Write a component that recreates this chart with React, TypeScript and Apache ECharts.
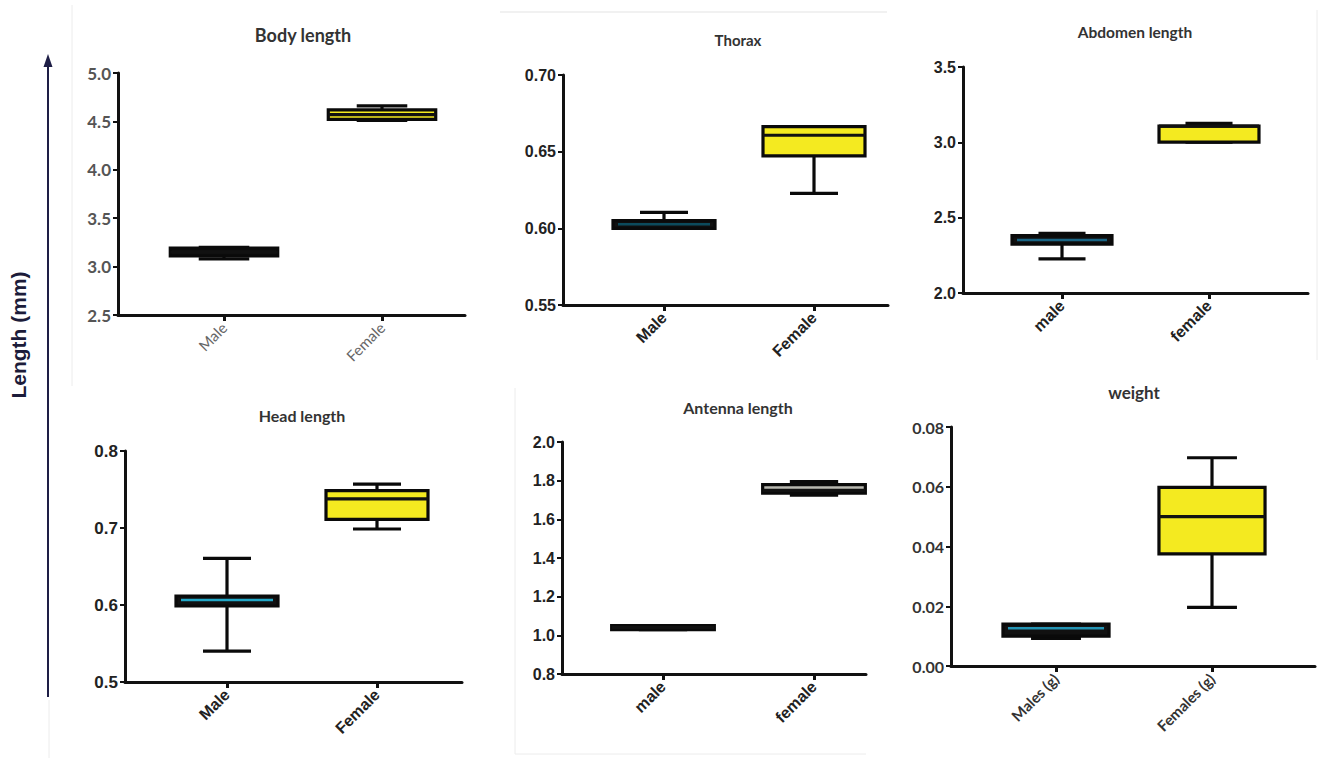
import React, { useEffect, useRef } from 'react';
import * as echarts from 'echarts';

// ---------- data ----------
// box stats: [min, Q1, median, Q3, max]
const bodyCats = ['Male', 'Female'];
const bodyMale = [3.08, 3.11, 3.15, 3.19, 3.2];
const bodyFemale = [4.51, 4.52, 4.57, 4.62, 4.66];
const bodyAxis = [2.5, 5.0, 0.5];

const thoraxCats = ['Male', 'Female'];
const thoraxMale = [0.6, 0.6, 0.6026, 0.605, 0.6104];
const thoraxFemale = [0.6228, 0.6472, 0.6607, 0.6663, 0.6663];
const thoraxAxis = [0.55, 0.7, 0.05];

const abdomenCats = ['male', 'female'];
const abdomenMale = [2.226, 2.324, 2.352, 2.381, 2.396];
const abdomenFemale = [3.002, 3.002, 3.108, 3.108, 3.126];
const abdomenAxis = [2.0, 3.5, 0.5];

const headCats = ['Male', 'Female'];
const headMale = [0.54, 0.5987, 0.6065, 0.6117, 0.6606];
const headFemale = [0.6987, 0.7113, 0.7377, 0.7485, 0.757];
const headAxis = [0.5, 0.8, 0.1];

const antennaCats = ['male', 'female'];
const antennaMale = [1.03, 1.03, 1.04, 1.05, 1.05];
const antennaFemale = [1.725, 1.735, 1.75, 1.78, 1.795];
const antennaAxis = [0.8, 2.0, 0.2];

const weightCats = ['Males (g)', 'Females (g)'];
const weightMale = [0.0092, 0.01, 0.0126, 0.014, 0.014];
const weightFemale = [0.0196, 0.0375, 0.05, 0.0598, 0.0697];
const weightAxis = [0, 0.08, 0.02];

const titles = ['Body length', 'Thorax', 'Abdomen length', 'Head length', 'Antenna length', 'weight'];

// ---------- layout / style ----------
const CAL = 'Lato, "Open Sans", sans-serif';
const ARI = '"Liberation Sans", Arial, sans-serif';

type Panel = {
  cats: string[]; male: number[]; female: number[]; axis: number[]; dec: number;
  left: number; right: number; top: number; bottom: number; t1: number; t2: number;
  title: [number, number, number];
  yFont: any; xFont: any; fills: string[]; medians: string[];
};

const panels: Panel[] = [
  {
    cats: bodyCats, male: bodyMale, female: bodyFemale, axis: bodyAxis, dec: 1,
    left: 118, right: 465, top: 73, bottom: 315, t1: 224, t2: 382, title: [303, 35, 18],
    yFont: { fontFamily: CAL, fontWeight: 'bold', fontSize: 17, color: '#555' },
    xFont: { fontFamily: CAL, fontWeight: 'normal', fontSize: 15, color: '#666' },
    fills: ['#111111', '#f4ea20'], medians: ['#111111', '#111111'],
  },
  {
    cats: thoraxCats, male: thoraxMale, female: thoraxFemale, axis: thoraxAxis, dec: 2,
    left: 563, right: 888, top: 75, bottom: 305, t1: 664, t2: 814, title: [738, 40, 15],
    yFont: { fontFamily: ARI, fontWeight: 'bold', fontSize: 16, color: '#222' },
    xFont: { fontFamily: ARI, fontWeight: 'bold', fontSize: 16, color: '#222' },
    fills: ['#111111', '#f4ea20'], medians: ['#0c4a5c', '#111111'],
  },
  {
    cats: abdomenCats, male: abdomenMale, female: abdomenFemale, axis: abdomenAxis, dec: 1,
    left: 963, right: 1308, top: 67, bottom: 293, t1: 1062, t2: 1209, title: [1135, 32, 15.5],
    yFont: { fontFamily: ARI, fontWeight: 'bold', fontSize: 16, color: '#222' },
    xFont: { fontFamily: ARI, fontWeight: 'bold', fontSize: 16, color: '#222' },
    fills: ['#111111', '#f4ea20'], medians: ['#1a6585', '#111111'],
  },
  {
    cats: headCats, male: headMale, female: headFemale, axis: headAxis, dec: 1,
    left: 125, right: 462, top: 451, bottom: 682, t1: 227, t2: 377, title: [302, 415, 16],
    yFont: { fontFamily: ARI, fontWeight: 'bold', fontSize: 17, color: '#222' },
    xFont: { fontFamily: ARI, fontWeight: 'bold', fontSize: 16, color: '#222' },
    fills: ['#111111', '#f4ea20'], medians: ['#22a8c8', '#111111'],
  },
  {
    cats: antennaCats, male: antennaMale, female: antennaFemale, axis: antennaAxis, dec: 1,
    left: 562, right: 866, top: 442, bottom: 674, t1: 663, t2: 814, title: [738, 407, 16],
    yFont: { fontFamily: ARI, fontWeight: 'bold', fontSize: 16, color: '#222' },
    xFont: { fontFamily: ARI, fontWeight: 'bold', fontSize: 16, color: '#222' },
    fills: ['#111111', '#b8b8b0'], medians: ['#111111', '#111111'],
  },
  {
    cats: weightCats, male: weightMale, female: weightFemale, axis: weightAxis, dec: 2,
    left: 951, right: 1315, top: 427, bottom: 666, t1: 1056, t2: 1212, title: [1134, 392, 17],
    yFont: { fontFamily: CAL, fontWeight: 'bold', fontSize: 16, color: '#333' },
    xFont: { fontFamily: CAL, fontWeight: 'bold', fontSize: 15, color: '#333' },
    fills: ['#111111', '#f4ea20'], medians: ['#2494b4', '#111111'],
  },
];

function makeRenderItem(fills: string[], medians: string[]) {
  return (params: any, api: any) => {
    const x = api.value(0);
    const p = [1, 2, 3, 4, 5].map((k) => api.coord([x, api.value(k)]));
    const unit = api.size([1, 0])[0];
    const cx = p[0][0];
    const hw = unit * 0.34;
    const cw = unit * 0.16;
    const i = params.dataIndex;
    const stroke = '#0a0a0a';
    const lw = 3.2;
    const isMale = i === 0;
    const medColor = medians[i];
    const inset = isMale && medColor !== '#111111' ? 5 : 0;
    return {
      type: 'group',
      children: [
        { type: 'line', shape: { x1: cx, y1: p[4][1], x2: cx, y2: p[3][1] }, style: { stroke, lineWidth: lw } },
        { type: 'line', shape: { x1: cx, y1: p[0][1], x2: cx, y2: p[1][1] }, style: { stroke, lineWidth: lw } },
        { type: 'line', shape: { x1: cx - cw, y1: p[4][1], x2: cx + cw, y2: p[4][1] }, style: { stroke, lineWidth: lw } },
        { type: 'line', shape: { x1: cx - cw, y1: p[0][1], x2: cx + cw, y2: p[0][1] }, style: { stroke, lineWidth: lw } },
        {
          type: 'rect',
          shape: { x: cx - hw, y: p[3][1], width: 2 * hw, height: Math.max(p[1][1] - p[3][1], 1) },
          style: { fill: fills[i], stroke, lineWidth: lw },
        },
        {
          type: 'line',
          shape: { x1: cx - hw + inset, y1: p[2][1], x2: cx + hw - inset, y2: p[2][1] },
          style: { stroke: medColor, lineWidth: inset ? 2.5 : lw },
        },
      ],
    };
  };
}

export default function App() {
  const ref = useRef<HTMLDivElement>(null);
  useEffect(() => {
    if (!ref.current) return;
    const chart = echarts.init(ref.current, null, { renderer: 'svg' });
    const grids: any[] = [];
    const xAxes: any[] = [];
    const yAxes: any[] = [];
    const series: any[] = [];
    const axisLine = { show: true, onZero: false, lineStyle: { color: '#111', width: 3 } };
    panels.forEach((pn, i) => {
      const sp = pn.t2 - pn.t1;
      const xmin = 1 - (pn.t1 - pn.left) / sp;
      const xmax = 2 + (pn.right - pn.t2) / sp;
      grids.push({ left: pn.left, top: pn.top, width: pn.right - pn.left, height: pn.bottom - pn.top, containLabel: false });
      xAxes.push({
        type: 'value', gridIndex: i, min: xmin, max: xmax,
        splitLine: { show: false },
        axisLine,
        axisTick: { show: true, customValues: [1, 2], length: 6, lineStyle: { color: '#111', width: 3 } },
        axisLabel: {
          customValues: [1, 2], rotate: 45, margin: 10,
          formatter: (v: number) => pn.cats[Math.round(v) - 1] ?? '',
          ...pn.xFont,
        },
      });
      yAxes.push({
        type: 'value', gridIndex: i, min: pn.axis[0], max: pn.axis[1], interval: pn.axis[2],
        splitLine: { show: false },
        axisLine,
        axisTick: { show: true, length: 5, lineStyle: { color: '#111', width: 2 } },
        axisLabel: { margin: 7, formatter: (v: number) => v.toFixed(pn.dec), ...pn.yFont },
      });
      series.push({
        type: 'custom',
        xAxisIndex: i,
        yAxisIndex: i,
        clip: false,
        renderItem: makeRenderItem(pn.fills, pn.medians),
        encode: { x: 0, y: [1, 2, 3, 4, 5] },
        data: [[1, ...pn.male], [2, ...pn.female]],
      });
    });

    const faint = '#ececec';
    const graphics: any[] = [
      // faint panel borders from the source image
      { type: 'line', shape: { x1: 72, y1: 5, x2: 72, y2: 386 }, style: { stroke: faint, lineWidth: 1 } },
      { type: 'line', shape: { x1: 500, y1: 12, x2: 887, y2: 12 }, style: { stroke: faint, lineWidth: 1.5 } },
      { type: 'line', shape: { x1: 1317, y1: 10, x2: 1317, y2: 360 }, style: { stroke: faint, lineWidth: 1 } },
      { type: 'line', shape: { x1: 515, y1: 388, x2: 515, y2: 754 }, style: { stroke: faint, lineWidth: 1 } },
      { type: 'line', shape: { x1: 515, y1: 754, x2: 866, y2: 754 }, style: { stroke: faint, lineWidth: 1 } },
      { type: 'line', shape: { x1: 49, y1: 700, x2: 49, y2: 758 }, style: { stroke: faint, lineWidth: 1 } },
      // big axis arrow
      { type: 'line', shape: { x1: 48, y1: 697, x2: 48, y2: 64 }, style: { stroke: '#1e1e46', lineWidth: 2 } },
      { type: 'polygon', shape: { points: [[48, 54], [43.5, 67], [52.5, 67]] }, style: { fill: '#1e1e46' } },
      {
        type: 'text', x: 18, y: 335, rotation: Math.PI / 2,
        style: { text: 'Length (mm)', font: 'bold 21px "Liberation Sans", Arial, sans-serif', fill: '#1c1c3a', align: 'center', verticalAlign: 'middle' },
      },
    ];
    panels.forEach((pn, i) => {
      graphics.push({
        type: 'text', x: pn.title[0], y: pn.title[1],
        style: { text: titles[i], font: `bold ${pn.title[2]}px ${CAL}`, fill: '#333', align: 'center', verticalAlign: 'middle' },
      });
    });

    chart.setOption({
      animation: false,
      backgroundColor: '#ffffff',
      grid: grids,
      xAxis: xAxes,
      yAxis: yAxes,
      series,
      graphic: graphics,
    });
    return () => chart.dispose();
  }, []);
  return <div ref={ref} style={{ position: 'absolute', left: 0, top: 0, width: 1319, height: 758 }} />;
}
